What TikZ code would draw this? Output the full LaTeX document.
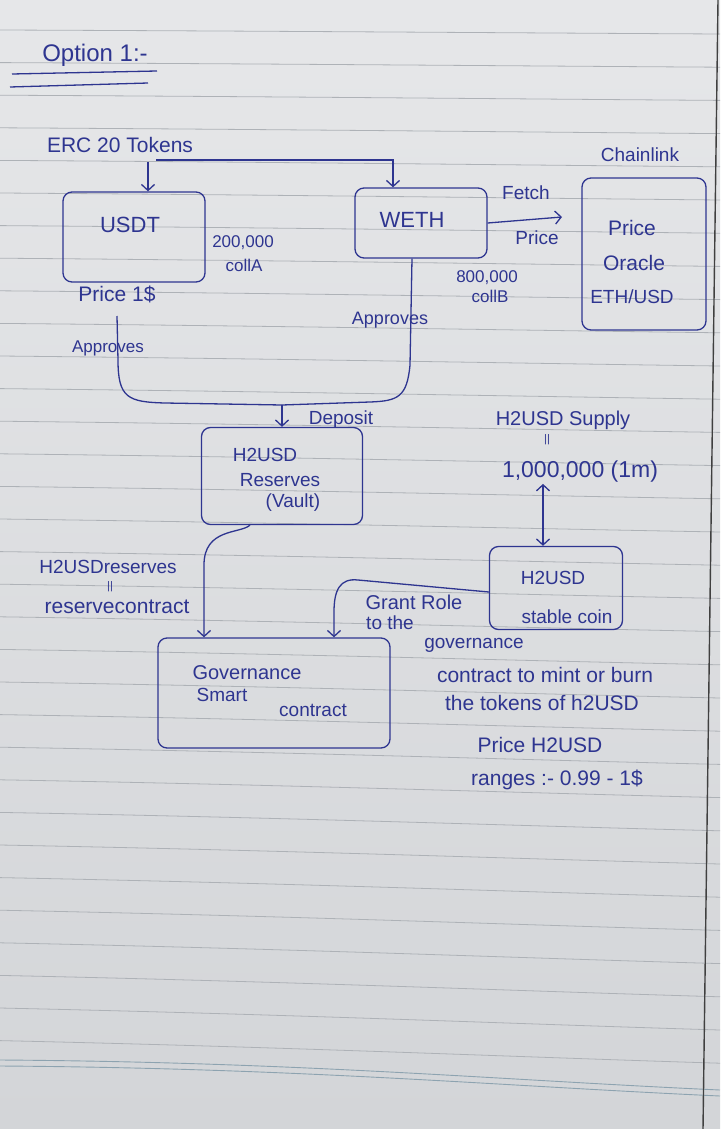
\documentclass[tikz,border=0pt]{standalone}
\usepackage{fontspec}
\setmainfont{Liberation Sans}
\usetikzlibrary{arrows.meta,calc}
\definecolor{ink}{HTML}{2E3590}
\definecolor{paperTop}{HTML}{E6E7E9}
\definecolor{paperBot}{HTML}{D3D5D8}
\definecolor{ruleC}{HTML}{AEB2B7}
\definecolor{ruleB}{HTML}{8DA3B0}
\begin{document}
\begin{tikzpicture}[x=1pt,y=-1pt,
  box/.style={draw=ink, line width=1.3pt, rounded corners=9pt, inner sep=0pt},
  hw/.style={text=ink, inner sep=1pt, align=center},
  fs/.style={font=\fontsize{#1}{#1}\selectfont},
  con/.style={draw=ink, line width=1.3pt},
  arr/.style={draw=ink, line width=1.3pt, -{Straight Barb[length=6pt,width=13pt]}},
  darr/.style={draw=ink, line width=1.3pt, {Straight Barb[length=6pt,width=13pt]}-{Straight Barb[length=6pt,width=13pt]}},
  paperrule/.style={draw=ruleC, line width=0.8pt}]
\useasboundingbox (0,0) rectangle (720,1129);
% paper
\shade[top color=paperTop, bottom color=paperBot] (0,0) rectangle (720,1129);
\foreach \k in {0,...,31}{
  \pgfmathsetmacro\yy{30+32.6*\k}
  \pgfmathsetmacro\ss{4+0.6*\k}
  \draw[paperrule] (0,\yy) .. controls (300,\yy+\ss*0.3) and (500,\yy+\ss*0.7) .. (720,\yy+\ss);
}
\draw[draw=ruleB, line width=0.9pt] (0,1060) .. controls (300,1062) and (500,1080) .. (720,1090);
\draw[draw=ruleB, line width=0.9pt] (0,1066) .. controls (300,1068) and (500,1086) .. (720,1096);
\draw[line width=1.4pt, draw=black!75] (718,0) -- (703,1129);

% title
\node[hw,fs=24] (title) at (95,55) {Option 1:-};
\draw[con] (12,74) -- (157,71);
\draw[con] (10,87) -- (148,83);

% top labels
\node[hw,fs=21] (erc) at (120,145) {ERC 20 Tokens};
\node[hw,fs=19] (chain) at (640,155) {Chainlink};

% boxes
\node[box, minimum width=142pt, minimum height=90pt] (usdt) at (134,237) {};
\node[hw,fs=22] (usdtT) at (130,225) {USDT};
\node[box, minimum width=132pt, minimum height=70pt] (weth) at (421,223) {};
\node[hw,fs=22] (wethT) at (412,220) {WETH};
\node[box, minimum width=124pt, minimum height=152pt] (oracle) at (644,254) {};
\node[hw,fs=21] (orT1) at (632,228) {Price};
\node[hw,fs=21] (orT2) at (634,263) {Oracle};
\node[hw,fs=19] (orT3) at (632,297) {ETH/USD};
\node[box, minimum width=161pt, minimum height=97pt] (res) at (282,476) {};
\node[hw,fs=19] (resT1) at (265,455) {H2USD};
\node[hw,fs=19] (resT2) at (280,480) {Reserves};
\node[hw,fs=19] (resT3) at (293,503) {(Vault)};
\node[box, minimum width=232pt, minimum height=110pt] (gov) at (274,693) {};
\node[hw,fs=20] (govT1) at (247,673) {Governance};
\node[hw,fs=19] (govT2) at (222,695) {Smart};
\node[hw,fs=19] (govT3) at (313,710) {contract};
\node[box, minimum width=133pt, minimum height=83pt] (stable) at (556,588) {};
\node[hw,fs=19] (stT1) at (553,578) {H2USD};
\node[hw,fs=19] (stT2) at (567,617) {stable coin};

% side labels
\node[hw,fs=17] (cA1) at (243,243) {200,000};
\node[hw,fs=17] (cA2) at (244,265) {collA};
\node[hw,fs=21] (p1) at (117,294) {Price 1\$};
\node[hw,fs=17] (cB1) at (487,278) {800,000};
\node[hw,fs=17] (cB2) at (490,296) {collB};
\node[hw,fs=18] (apR) at (390,320) {Approves};
\node[hw,fs=17] (apL) at (108,348) {Approves};
\node[hw,fs=19] (dep) at (341,420) {Deposit};
\node[hw,fs=19] (fetch) at (526,193) {Fetch};
\node[hw,fs=19] (fprice) at (537,238) {Price};

\node[hw,fs=20] (supply) at (563,420) {H2USD Supply};
\node[hw,fs=11] (dit1) at (547,440) {||};
\node[hw,fs=23] (mil) at (580,472) {1,000,000 (1m)};

\node[hw,fs=19] (h2r) at (108,567) {H2USDreserves};
\node[hw,fs=11] (dit2) at (110,587) {||};
\node[hw,fs=21] (rc) at (117,607) {reservecontract};

\node[hw,fs=20] (gr1) at (414,602) {Grant Role};
\node[hw,fs=19] (gr2) at (390,623) {to the};
\node[hw,fs=19] (gr3) at (474,645) {governance};
\node[hw,fs=21] (gr4) at (545,675) {contract to mint or burn};
\node[hw,fs=21] (gr5) at (542,703) {the tokens of h2USD};

\node[hw,fs=21] (pr1) at (540,745) {Price H2USD};
\node[hw,fs=21] (pr2) at (557,780) {ranges :- 0.99 - 1\$};

% connectors
\coordinate (ercA) at (148,162);
\coordinate (ercB) at (156,160);
\draw[arr] (ercA) -- (ercA |- usdt.north);
\draw[arr] (ercB) -| ([xshift=-28pt]weth.north);

\coordinate (fetchEnd) at (562,217);
\draw[arr] (weth.east) -- (fetchEnd);

\coordinate (lstart) at (117,316);
\coordinate (merge) at (282,405);
\draw[con] (lstart) -- (118,360) .. controls (118,398) and (128,402) .. (165,403) -- (merge);
\draw[con] ([xshift=-9pt]weth.south) -- (410,365) .. controls (407,397) and (398,401) .. (370,402) -- (merge);
\draw[arr] (merge) -- (res.north);

\draw[arr] ([xshift=-32pt]res.south) .. controls (240,534) and (204,528) .. (204,565) -- ([xshift=-70pt]gov.north);

\draw[darr] ([xshift=-37pt]mil.south) -- ([xshift=-13pt]stable.north);

\draw[arr] ([yshift=-4pt]stable.west) -- (358,580) .. controls (340,578) and (334,590) .. (334,612) -- ([xshift=60pt]gov.north);
\end{tikzpicture}
\end{document}
